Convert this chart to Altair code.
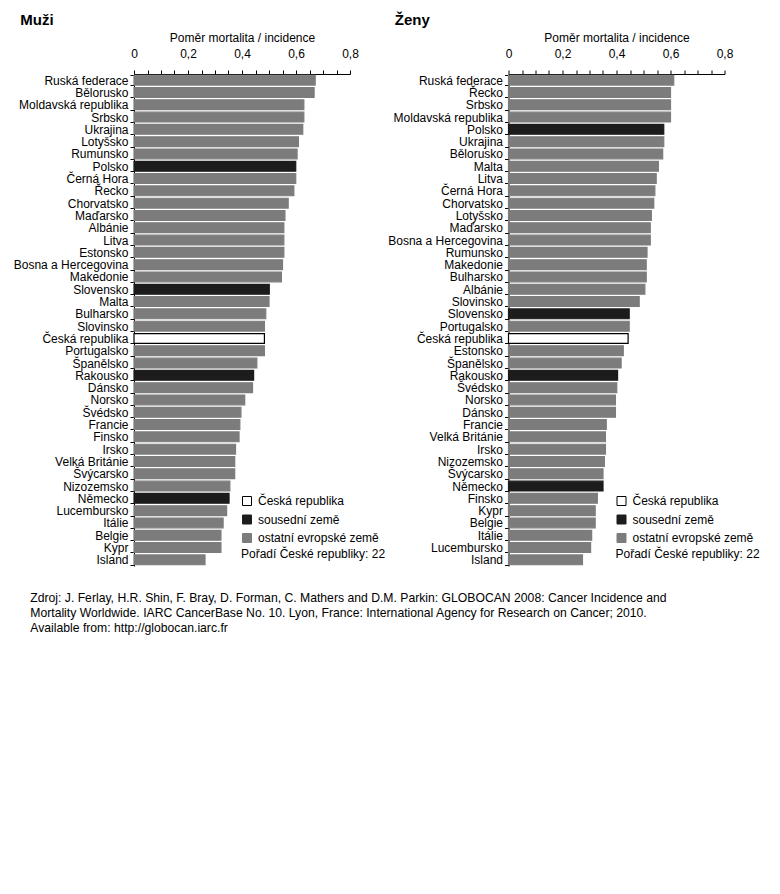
import altair as alt
import pandas as pd

men_countries = ["Ruská federace", "Bělorusko", "Moldavská republika", "Srbsko", "Ukrajina",
                 "Lotyšsko", "Rumunsko", "Polsko", "Černá Hora", "Řecko", "Chorvatsko",
                 "Maďarsko", "Albánie", "Litva", "Estonsko", "Bosna a Hercegovina", "Makedonie",
                 "Slovensko", "Malta", "Bulharsko", "Slovinsko", "Česká republika", "Portugalsko",
                 "Španělsko", "Rakousko", "Dánsko", "Norsko", "Švédsko", "Francie", "Finsko",
                 "Irsko", "Velká Británie", "Švýcarsko", "Nizozemsko", "Německo", "Lucembursko",
                 "Itálie", "Belgie", "Kypr", "Island"]
men_values = [0.671, 0.667, 0.629, 0.629, 0.625, 0.609, 0.604, 0.599, 0.599, 0.592, 0.571,
              0.559, 0.555, 0.555, 0.555, 0.550, 0.546, 0.501, 0.500, 0.488, 0.483, 0.483,
              0.483, 0.455, 0.443, 0.439, 0.410, 0.396, 0.392, 0.389, 0.376, 0.373, 0.373,
              0.355, 0.352, 0.343, 0.330, 0.322, 0.322, 0.263]

women_countries = ["Ruská federace", "Řecko", "Srbsko", "Moldavská republika", "Polsko", "Ukrajina",
                   "Bělorusko", "Malta", "Litva", "Černá Hora", "Chorvatsko", "Lotyšsko",
                   "Maďarsko", "Bosna a Hercegovina", "Rumunsko", "Makedonie", "Bulharsko",
                   "Albánie", "Slovinsko", "Slovensko", "Portugalsko", "Česká republika",
                   "Estonsko", "Španělsko", "Rakousko", "Švédsko", "Norsko", "Dánsko", "Francie",
                   "Velká Británie", "Irsko", "Nizozemsko", "Švýcarsko", "Německo", "Finsko",
                   "Kypr", "Belgie", "Itálie", "Lucembursko", "Island"]
women_values = [0.612, 0.600, 0.600, 0.600, 0.575, 0.575, 0.571, 0.555, 0.547, 0.542, 0.538,
                0.529, 0.525, 0.525, 0.513, 0.510, 0.510, 0.505, 0.484, 0.447, 0.447, 0.443,
                0.425, 0.417, 0.404, 0.401, 0.396, 0.396, 0.362, 0.359, 0.359, 0.355, 0.350,
                0.350, 0.329, 0.321, 0.321, 0.308, 0.304, 0.274]

neighbours = ["Polsko", "Slovensko", "Rakousko", "Německo"]
home = "Česká republika"
groups = ["Česká republika", "sousední země", "ostatní evropské země"]
fill_colors = ["#ffffff", "#1c1c1c", "#7c7c7c"]
stroke_colors = ["#000000", "#1c1c1c", "#7c7c7c"]

x_ticks = [0, 0.05, 0.1, 0.15, 0.2, 0.25, 0.3, 0.35, 0.4, 0.45, 0.5, 0.55, 0.6, 0.65, 0.7, 0.75, 0.8]
x_title = "Poměr mortalita / incidence"
rank_text = "Pořadí České republiky: 22"
source_lines = [
    "Zdroj: J. Ferlay, H.R. Shin,  F. Bray, D. Forman, C. Mathers and D.M. Parkin: GLOBOCAN 2008: Cancer Incidence and",
    "Mortality Worldwide. IARC CancerBase No. 10. Lyon, France: International Agency for Research on Cancer; 2010.",
    "Available from: http://globocan.iarc.fr",
]

FONT = "Liberation Sans"


def group_of(c):
    if c == home:
        return groups[0]
    if c in neighbours:
        return groups[1]
    return groups[2]


def panel(countries, values, title):
    df = pd.DataFrame({"country": countries, "value": values,
                       "group": [group_of(c) for c in countries]})
    major = "abs(datum.value*5 - round(datum.value*5)) < 0.001"
    label_expr = ("datum.value == 0 ? '0' : (" + major +
                  " ? replace(format(datum.value, '.1f'), '.', ',') : '')")
    legend = alt.Legend(orient="none", legendX=107, legendY=421, title=rank_text,
                        titleOrient="bottom", titleAnchor="start", titleFontWeight="normal",
                        titleFontSize=12, titleFont=FONT, titleColor="black", titlePadding=4,
                        labelFontSize=12, labelFont=FONT, labelColor="black", labelOffset=5,
                        symbolType="square", symbolSize=81, symbolStrokeWidth=1,
                        rowPadding=4.5, padding=0)
    return alt.Chart(df).mark_bar(strokeWidth=1.2).encode(
        x=alt.X("value:Q", scale=alt.Scale(domain=[0, 0.8], nice=False),
                axis=alt.Axis(orient="top", values=x_ticks, labelExpr=label_expr,
                              title=x_title, titleFont=FONT, titleFontSize=12,
                              titleFontWeight="normal", titleColor="black", titlePadding=3,
                              labelFont=FONT, labelFontSize=12, labelColor="black",
                              labelFlush=False, labelOverlap=False, labelPadding=10,
                              tickColor="black", tickSize=4, domainColor="black",
                              grid=False)),
        y=alt.Y("country:N", sort=countries,
                scale=alt.Scale(paddingInner=0.2, paddingOuter=0.1),
                axis=alt.Axis(title=None, labelFont=FONT, labelFontSize=12, labelColor="black",
                              labelPadding=2, tickSize=4, tickColor="black", tickBand="extent",
                              domainColor="black", grid=False)),
        fill=alt.Fill("group:N", scale=alt.Scale(domain=groups, range=fill_colors),
                      legend=legend),
        stroke=alt.Stroke("group:N", scale=alt.Scale(domain=groups, range=stroke_colors),
                          legend=legend),
    ).properties(
        width=216, height=492,
        title=alt.TitleParams(title, anchor="start", fontSize=15, fontWeight="bold", font=FONT,
                              color="black", dx=7, offset=3),
    )


left = panel(men_countries, men_values, "Muži")
right = panel(women_countries, women_values, "Ženy")

chart = alt.hconcat(left, right, spacing=1.5).resolve_scale(
    fill="independent", stroke="independent", y="independent"
).properties(
    title=alt.TitleParams(source_lines, orient="bottom", anchor="start", fontSize=12.2,
                          fontWeight="normal", font=FONT, color="black", lineHeight=15,
                          dx=17, offset=26),
    background="white",
).configure_view(strokeWidth=0)

chart.save("out.html", embed_options={"renderer": "svg", "actions": False})
